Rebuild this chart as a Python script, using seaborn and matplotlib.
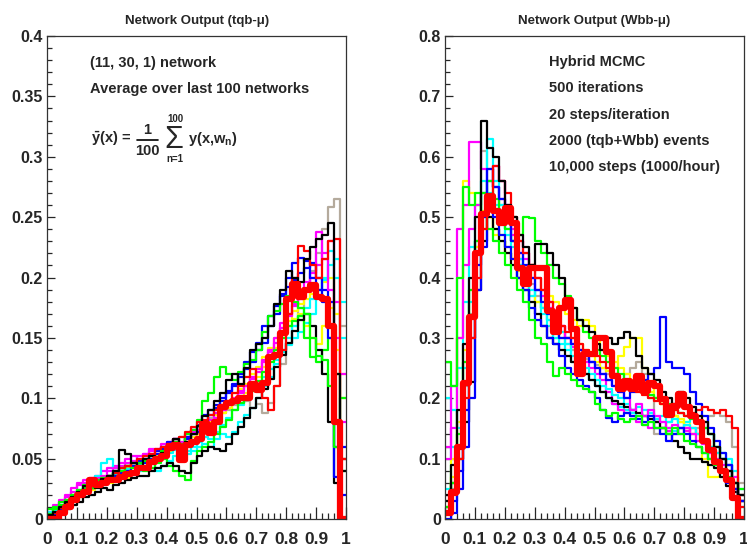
import numpy as np
import pandas as pd
import matplotlib
matplotlib.use("Agg")
import matplotlib.pyplot as plt
from matplotlib.lines import Line2D
from matplotlib.ticker import MultipleLocator, FuncFormatter
import seaborn as sns

# 50 bins on [0, 1]
edges = np.linspace(0, 1, 51)
centers = 0.5 * (edges[:-1] + edges[1:])

# ---- tqb-mu panel: individual networks ----
tqb_black = [0.003, 0.006, 0.010, 0.014, 0.018, 0.022, 0.027, 0.030, 0.026, 0.033,
             0.036, 0.040, 0.057, 0.054, 0.046, 0.044, 0.050, 0.052, 0.049, 0.055,
             0.060, 0.066, 0.058, 0.064, 0.070, 0.077, 0.085, 0.090, 0.098, 0.104,
             0.115, 0.120, 0.112, 0.125, 0.140, 0.145, 0.150, 0.160, 0.178, 0.190,
             0.205, 0.200, 0.196, 0.215, 0.225, 0.232, 0.235, 0.245, 0.120, 0.040]
tqb_green = [0.004, 0.008, 0.012, 0.016, 0.020, 0.024, 0.028, 0.026, 0.030, 0.034,
             0.036, 0.038, 0.040, 0.044, 0.042, 0.046, 0.048, 0.052, 0.050, 0.056,
             0.060, 0.064, 0.062, 0.070, 0.074, 0.082, 0.098, 0.104, 0.118, 0.126,
             0.120, 0.115, 0.122, 0.128, 0.132, 0.140, 0.155, 0.168, 0.172, 0.178,
             0.185, 0.180, 0.175, 0.170, 0.150, 0.135, 0.132, 0.110, 0.060, 0.100]
tqb_blue = [0.002, 0.004, 0.006, 0.012, 0.015, 0.019, 0.024, 0.026, 0.028, 0.030,
            0.034, 0.036, 0.038, 0.040, 0.044, 0.048, 0.046, 0.050, 0.054, 0.058,
            0.062, 0.060, 0.058, 0.066, 0.070, 0.072, 0.080, 0.086, 0.092, 0.098,
            0.104, 0.110, 0.118, 0.124, 0.130, 0.140, 0.146, 0.160, 0.170, 0.185,
            0.200, 0.212, 0.216, 0.214, 0.200, 0.190, 0.180, 0.150, 0.035, 0.060]
tqb_blue2 = [0.002, 0.005, 0.008, 0.012, 0.016, 0.020, 0.022, 0.026, 0.030, 0.034,
             0.036, 0.038, 0.042, 0.044, 0.046, 0.048, 0.050, 0.052, 0.056, 0.060,
             0.064, 0.066, 0.060, 0.068, 0.074, 0.078, 0.086, 0.090, 0.094, 0.100,
             0.106, 0.112, 0.120, 0.130, 0.138, 0.146, 0.160, 0.168, 0.176, 0.186,
             0.192, 0.198, 0.204, 0.208, 0.212, 0.200, 0.190, 0.180, 0.060, 0.020]
tqb_magenta = [0.004, 0.010, 0.014, 0.018, 0.022, 0.028, 0.030, 0.033, 0.034, 0.036,
               0.040, 0.042, 0.044, 0.046, 0.048, 0.052, 0.054, 0.056, 0.058, 0.060,
               0.062, 0.058, 0.064, 0.066, 0.072, 0.074, 0.078, 0.082, 0.088, 0.090,
               0.094, 0.096, 0.104, 0.110, 0.116, 0.124, 0.132, 0.140, 0.150, 0.162,
               0.170, 0.176, 0.182, 0.190, 0.200, 0.238, 0.215, 0.190, 0.150, 0.120]
tqb_magenta2 = [0.006, 0.012, 0.016, 0.020, 0.026, 0.030, 0.032, 0.034, 0.036, 0.040,
                0.042, 0.044, 0.046, 0.050, 0.052, 0.050, 0.054, 0.058, 0.056, 0.062,
                0.064, 0.066, 0.062, 0.068, 0.070, 0.074, 0.080, 0.078, 0.084, 0.090,
                0.096, 0.100, 0.106, 0.110, 0.118, 0.122, 0.130, 0.138, 0.146, 0.158,
                0.168, 0.178, 0.186, 0.196, 0.204, 0.210, 0.220, 0.230, 0.180, 0.080]
tqb_cyan = [0.006, 0.008, 0.012, 0.015, 0.018, 0.022, 0.026, 0.030, 0.036, 0.046,
            0.050, 0.042, 0.040, 0.038, 0.044, 0.040, 0.042, 0.046, 0.040, 0.044,
            0.048, 0.052, 0.050, 0.054, 0.056, 0.060, 0.062, 0.060, 0.066, 0.070,
            0.068, 0.072, 0.080, 0.086, 0.092, 0.100, 0.110, 0.118, 0.128, 0.140,
            0.150, 0.160, 0.168, 0.175, 0.182, 0.190, 0.198, 0.210, 0.215, 0.150]
tqb_cyan2 = [0.004, 0.007, 0.011, 0.015, 0.019, 0.023, 0.027, 0.029, 0.031, 0.033,
             0.035, 0.037, 0.039, 0.041, 0.043, 0.045, 0.047, 0.049, 0.051, 0.053,
             0.055, 0.057, 0.052, 0.056, 0.060, 0.064, 0.068, 0.066, 0.072, 0.078,
             0.084, 0.090, 0.094, 0.100, 0.106, 0.112, 0.118, 0.124, 0.132, 0.138,
             0.144, 0.150, 0.155, 0.162, 0.170, 0.185, 0.200, 0.222, 0.200, 0.180]
tqb_yellow = [0.002, 0.004, 0.008, 0.012, 0.016, 0.018, 0.022, 0.024, 0.028, 0.030,
              0.030, 0.034, 0.036, 0.034, 0.040, 0.044, 0.046, 0.048, 0.052, 0.056,
              0.058, 0.060, 0.062, 0.066, 0.068, 0.072, 0.074, 0.078, 0.084, 0.088,
              0.092, 0.096, 0.100, 0.104, 0.110, 0.118, 0.126, 0.134, 0.142, 0.152,
              0.160, 0.166, 0.170, 0.160, 0.150, 0.145, 0.160, 0.175, 0.140, 0.100]
tqb_yellow2 = [0.001, 0.004, 0.008, 0.012, 0.016, 0.020, 0.024, 0.028, 0.030, 0.032,
               0.034, 0.036, 0.038, 0.042, 0.044, 0.046, 0.048, 0.050, 0.052, 0.054,
               0.056, 0.060, 0.064, 0.066, 0.068, 0.070, 0.076, 0.080, 0.086, 0.092,
               0.098, 0.104, 0.108, 0.112, 0.120, 0.126, 0.134, 0.142, 0.150, 0.158,
               0.164, 0.172, 0.178, 0.182, 0.186, 0.190, 0.196, 0.200, 0.170, 0.120]
tqb_gray = [0.003, 0.006, 0.010, 0.014, 0.018, 0.022, 0.026, 0.028, 0.030, 0.034,
            0.036, 0.038, 0.040, 0.042, 0.046, 0.048, 0.050, 0.054, 0.056, 0.060,
            0.062, 0.064, 0.068, 0.070, 0.074, 0.076, 0.080, 0.084, 0.086, 0.088,
            0.090, 0.094, 0.096, 0.098, 0.092, 0.095, 0.088, 0.096, 0.110, 0.128,
            0.145, 0.160, 0.175, 0.190, 0.205, 0.220, 0.240, 0.258, 0.265, 0.160]
tqb_red = [0.002, 0.005, 0.009, 0.013, 0.016, 0.020, 0.023, 0.027, 0.030, 0.033,
           0.036, 0.038, 0.042, 0.044, 0.046, 0.050, 0.052, 0.054, 0.058, 0.060,
           0.062, 0.066, 0.068, 0.072, 0.076, 0.080, 0.082, 0.086, 0.090, 0.094,
           0.098, 0.104, 0.110, 0.118, 0.124, 0.110, 0.100, 0.090, 0.110, 0.140,
           0.170, 0.200, 0.226, 0.222, 0.210, 0.200, 0.215, 0.230, 0.232, 0.050]
tqb_black2 = [0.001, 0.003, 0.006, 0.008, 0.012, 0.014, 0.018, 0.020, 0.022, 0.026,
              0.024, 0.028, 0.030, 0.032, 0.034, 0.036, 0.036, 0.040, 0.042, 0.044,
              0.046, 0.044, 0.040, 0.038, 0.046, 0.052, 0.056, 0.060, 0.058, 0.056,
              0.062, 0.070, 0.076, 0.084, 0.092, 0.100, 0.108, 0.116, 0.126, 0.136,
              0.146, 0.156, 0.165, 0.170, 0.160, 0.140, 0.120, 0.080, 0.030, 0.050]
tqb_green2 = [0.008, 0.010, 0.014, 0.016, 0.020, 0.024, 0.026, 0.030, 0.032, 0.034,
              0.036, 0.040, 0.042, 0.044, 0.046, 0.044, 0.040, 0.042, 0.046, 0.050,
              0.044, 0.040, 0.036, 0.032, 0.048, 0.056, 0.060, 0.064, 0.070, 0.076,
              0.082, 0.090, 0.096, 0.100, 0.106, 0.114, 0.122, 0.130, 0.140, 0.150,
              0.160, 0.164, 0.168, 0.150, 0.134, 0.130, 0.140, 0.150, 0.120, 0.040]
# average over networks (thick red)
tqb_mean = [0.000, 0.000, 0.005, 0.010, 0.016, 0.020, 0.022, 0.032, 0.028, 0.030,
            0.032, 0.032, 0.035, 0.037, 0.038, 0.042, 0.042, 0.047, 0.050, 0.052,
            0.059, 0.061, 0.049, 0.061, 0.064, 0.066, 0.079, 0.071, 0.080, 0.093,
            0.096, 0.098, 0.100, 0.100, 0.112, 0.107, 0.113, 0.134, 0.136, 0.154,
            0.182, 0.195, 0.184, 0.190, 0.194, 0.184, 0.182, 0.160, 0.080, 0.000]

# ---- Wbb-mu panel ----
wbb_black = [0.040, 0.090, 0.180, 0.290, 0.400, 0.500, 0.660, 0.615, 0.600, 0.560,
             0.520, 0.500, 0.470, 0.450, 0.420, 0.455, 0.455, 0.440, 0.420, 0.400,
             0.360, 0.350, 0.330, 0.320, 0.310, 0.290, 0.280, 0.300, 0.290, 0.300,
             0.310, 0.300, 0.270, 0.250, 0.240, 0.230, 0.210, 0.200, 0.190, 0.210,
             0.200, 0.185, 0.170, 0.160, 0.140, 0.120, 0.100, 0.080, 0.060, 0.040]
wbb_black2 = [0.030, 0.060, 0.100, 0.160, 0.227, 0.380, 0.460, 0.500, 0.480, 0.460,
              0.440, 0.420, 0.400, 0.380, 0.360, 0.340, 0.320, 0.300, 0.290, 0.280,
              0.270, 0.260, 0.250, 0.240, 0.230, 0.220, 0.210, 0.200, 0.195, 0.190,
              0.185, 0.180, 0.175, 0.170, 0.165, 0.160, 0.150, 0.140, 0.130, 0.120,
              0.110, 0.100, 0.100, 0.095, 0.090, 0.085, 0.070, 0.055, 0.045, 0.030]
wbb_magenta = [0.100, 0.220, 0.480, 0.520, 0.625, 0.625, 0.580, 0.560, 0.550, 0.530,
               0.500, 0.470, 0.440, 0.430, 0.400, 0.380, 0.370, 0.350, 0.330, 0.320,
               0.300, 0.290, 0.280, 0.270, 0.260, 0.250, 0.240, 0.230, 0.220, 0.210,
               0.200, 0.180, 0.190, 0.170, 0.180, 0.170, 0.160, 0.150, 0.155, 0.140,
               0.150, 0.140, 0.130, 0.125, 0.110, 0.100, 0.090, 0.080, 0.060, 0.040]
wbb_magenta2 = [0.120, 0.150, 0.300, 0.420, 0.480, 0.520, 0.540, 0.560, 0.585, 0.560,
                0.520, 0.480, 0.460, 0.440, 0.420, 0.400, 0.380, 0.360, 0.340, 0.320,
                0.300, 0.285, 0.270, 0.260, 0.250, 0.240, 0.230, 0.210, 0.190, 0.180,
                0.175, 0.170, 0.160, 0.155, 0.150, 0.160, 0.150, 0.145, 0.140, 0.150,
                0.145, 0.150, 0.140, 0.130, 0.120, 0.110, 0.100, 0.090, 0.070, 0.040]
wbb_cyan = [0.200, 0.180, 0.150, 0.250, 0.360, 0.460, 0.540, 0.630, 0.560, 0.520,
            0.480, 0.460, 0.430, 0.400, 0.370, 0.380, 0.350, 0.330, 0.300, 0.310,
            0.290, 0.270, 0.260, 0.250, 0.240, 0.230, 0.220, 0.215, 0.205, 0.200,
            0.190, 0.180, 0.185, 0.170, 0.175, 0.165, 0.170, 0.160, 0.165, 0.150,
            0.155, 0.150, 0.140, 0.130, 0.120, 0.110, 0.100, 0.090, 0.060, 0.020]
wbb_cyan2 = [0.050, 0.120, 0.250, 0.360, 0.450, 0.520, 0.560, 0.540, 0.520, 0.500,
             0.470, 0.450, 0.420, 0.400, 0.380, 0.360, 0.340, 0.320, 0.300, 0.290,
             0.280, 0.260, 0.250, 0.240, 0.230, 0.220, 0.210, 0.200, 0.190, 0.185,
             0.180, 0.175, 0.170, 0.180, 0.175, 0.165, 0.160, 0.150, 0.145, 0.150,
             0.160, 0.170, 0.160, 0.150, 0.140, 0.120, 0.110, 0.100, 0.080, 0.050]
wbb_blue = [0.010, 0.030, 0.080, 0.180, 0.300, 0.420, 0.500, 0.580, 0.550, 0.530,
            0.500, 0.460, 0.440, 0.420, 0.400, 0.380, 0.360, 0.340, 0.320, 0.300,
            0.300, 0.290, 0.280, 0.270, 0.260, 0.250, 0.240, 0.230, 0.220, 0.210,
            0.200, 0.210, 0.220, 0.230, 0.240, 0.250, 0.335, 0.260, 0.250, 0.250,
            0.240, 0.210, 0.190, 0.170, 0.150, 0.130, 0.110, 0.090, 0.050, 0.030]
wbb_blue2 = [0.000, 0.010, 0.050, 0.120, 0.200, 0.380, 0.450, 0.520, 0.500, 0.470,
             0.450, 0.430, 0.400, 0.380, 0.350, 0.330, 0.320, 0.300, 0.290, 0.270,
             0.250, 0.240, 0.230, 0.220, 0.210, 0.200, 0.180, 0.168, 0.160, 0.170,
             0.175, 0.170, 0.165, 0.160, 0.170, 0.150, 0.140, 0.130, 0.140, 0.150,
             0.140, 0.130, 0.120, 0.110, 0.100, 0.090, 0.080, 0.060, 0.050, 0.030]
wbb_green = [0.260, 0.220, 0.400, 0.550, 0.520, 0.540, 0.500, 0.480, 0.460, 0.440,
             0.420, 0.400, 0.380, 0.360, 0.330, 0.300, 0.290, 0.260, 0.237, 0.250,
             0.240, 0.230, 0.220, 0.215, 0.210, 0.190, 0.180, 0.170, 0.175, 0.165,
             0.160, 0.165, 0.170, 0.155, 0.160, 0.150, 0.150, 0.140, 0.150, 0.140,
             0.130, 0.125, 0.120, 0.110, 0.100, 0.090, 0.080, 0.070, 0.060, 0.050]
wbb_green2 = [0.020, 0.060, 0.140, 0.260, 0.380, 0.460, 0.540, 0.560, 0.530, 0.500,
              0.480, 0.460, 0.470, 0.500, 0.498, 0.460, 0.440, 0.420, 0.400, 0.390,
              0.370, 0.350, 0.330, 0.310, 0.300, 0.280, 0.270, 0.260, 0.250, 0.240,
              0.230, 0.220, 0.215, 0.210, 0.205, 0.200, 0.195, 0.190, 0.180, 0.175,
              0.170, 0.165, 0.160, 0.150, 0.140, 0.120, 0.100, 0.080, 0.060, 0.040]
wbb_yellow = [0.030, 0.100, 0.300, 0.560, 0.540, 0.520, 0.510, 0.500, 0.480, 0.470,
              0.450, 0.430, 0.410, 0.390, 0.370, 0.360, 0.350, 0.340, 0.320, 0.310,
              0.300, 0.300, 0.290, 0.280, 0.270, 0.260, 0.250, 0.245, 0.250, 0.270,
              0.285, 0.300, 0.300, 0.250, 0.220, 0.200, 0.190, 0.180, 0.170, 0.160,
              0.150, 0.140, 0.120, 0.100, 0.070, 0.070, 0.080, 0.090, 0.070, 0.040]
wbb_yellow2 = [0.020, 0.070, 0.160, 0.280, 0.380, 0.450, 0.480, 0.500, 0.470, 0.460,
               0.440, 0.430, 0.420, 0.410, 0.420, 0.400, 0.380, 0.370, 0.360, 0.350,
               0.340, 0.330, 0.320, 0.330, 0.320, 0.300, 0.280, 0.270, 0.260, 0.250,
               0.240, 0.230, 0.220, 0.215, 0.210, 0.200, 0.190, 0.180, 0.170, 0.165,
               0.160, 0.150, 0.140, 0.130, 0.120, 0.100, 0.080, 0.070, 0.050, 0.030]
wbb_gray = [0.020, 0.050, 0.120, 0.220, 0.340, 0.450, 0.610, 0.580, 0.550, 0.520,
            0.490, 0.460, 0.430, 0.410, 0.390, 0.370, 0.350, 0.330, 0.310, 0.300,
            0.290, 0.280, 0.270, 0.265, 0.260, 0.255, 0.250, 0.240, 0.235, 0.230,
            0.240, 0.250, 0.260, 0.240, 0.200, 0.140, 0.150, 0.160, 0.170, 0.160,
            0.150, 0.140, 0.150, 0.160, 0.170, 0.175, 0.170, 0.160, 0.120, 0.060]
wbb_red = [0.010, 0.040, 0.100, 0.200, 0.300, 0.400, 0.480, 0.520, 0.585, 0.560,
           0.540, 0.500, 0.460, 0.440, 0.420, 0.400, 0.380, 0.360, 0.340, 0.320,
           0.310, 0.300, 0.290, 0.280, 0.275, 0.270, 0.260, 0.250, 0.240, 0.230,
           0.220, 0.215, 0.210, 0.205, 0.200, 0.195, 0.190, 0.185, 0.180, 0.175,
           0.170, 0.175, 0.180, 0.185, 0.180, 0.175, 0.180, 0.170, 0.150, 0.020]
wbb_mean = [0.010, 0.045, 0.120, 0.225, 0.335, 0.440, 0.505, 0.535, 0.510, 0.490,
            0.515, 0.490, 0.415, 0.390, 0.415, 0.415, 0.415, 0.345, 0.310, 0.350,
            0.362, 0.315, 0.240, 0.273, 0.273, 0.300, 0.300, 0.277, 0.237, 0.215,
            0.228, 0.215, 0.237, 0.212, 0.226, 0.220, 0.198, 0.172, 0.187, 0.207,
            0.185, 0.170, 0.160, 0.130, 0.115, 0.095, 0.080, 0.065, 0.035, 0.000]

GRAY, YEL, CYA, MAG = "#b4aa9c", "#ffff00", "#00ffff", "#ff00ff"
GRN, BLU, RED, BLK = "#00ff00", "#0000ff", "#ff0000", "#000000"
tqb_nets = [(tqb_gray, GRAY), (tqb_yellow2, YEL), (tqb_cyan2, CYA), (tqb_yellow, YEL),
            (tqb_magenta2, MAG), (tqb_cyan, CYA), (tqb_blue2, BLU), (tqb_magenta, MAG),
            (tqb_green2, GRN), (tqb_black2, BLK), (tqb_blue, BLU), (tqb_green, GRN),
            (tqb_red, RED), (tqb_black, BLK)]
wbb_nets = [(wbb_gray, GRAY), (wbb_yellow2, YEL), (wbb_cyan2, CYA), (wbb_yellow, YEL),
            (wbb_magenta2, MAG), (wbb_cyan, CYA), (wbb_black2, BLK), (wbb_magenta, MAG),
            (wbb_green2, GRN), (wbb_blue2, BLU), (wbb_green, GRN), (wbb_blue, BLU),
            (wbb_red, RED), (wbb_black, BLK)]

sns.set_style("ticks")
plt.rcParams["font.family"] = ["Liberation Sans", "DejaVu Sans"]
plt.rcParams["font.weight"] = "bold"
plt.rcParams["mathtext.fontset"] = "custom"
plt.rcParams["mathtext.rm"] = "Liberation Sans:bold"
plt.rcParams["mathtext.it"] = "Liberation Sans:bold"
plt.rcParams["mathtext.bf"] = "Liberation Sans:bold"

W, H = 747, 550
fig = plt.figure(figsize=(W / 100, H / 100), dpi=100)
ax1 = fig.add_axes([47 / W, 1 - 519 / H, 299 / W, 483 / H])
ax2 = fig.add_axes([445 / W, 1 - 519 / H, 299 / W, 483 / H])


def draw_hist(ax, values, color, lw):
    df = pd.DataFrame({"x": centers, "w": values})
    sns.histplot(data=df, x="x", weights="w", bins=50, binrange=(0, 1),
                 element="step", fill=False, color=color, linewidth=lw, ax=ax)


def fmt(v, pos):
    return "%g" % round(v, 3)


for ax, nets, mean, ymax, ymaj, ymin in [(ax1, tqb_nets, tqb_mean, 0.4, 0.05, 0.01),
                                         (ax2, wbb_nets, wbb_mean, 0.8, 0.1, 0.02)]:
    for vals, col in nets:
        draw_hist(ax, vals, col, 1.6)
    draw_hist(ax, mean, RED, 4.5)
    ax.set_xlim(0, 1)
    ax.set_ylim(0, ymax)
    ax.set_xlabel("")
    ax.set_ylabel("")
    ax.xaxis.set_major_locator(MultipleLocator(0.1))
    ax.xaxis.set_minor_locator(MultipleLocator(0.02))
    ax.yaxis.set_major_locator(MultipleLocator(ymaj))
    ax.yaxis.set_minor_locator(MultipleLocator(ymin))
    ax.xaxis.set_major_formatter(FuncFormatter(fmt))
    ax.yaxis.set_major_formatter(FuncFormatter(fmt))
    ax.tick_params(axis="x", which="major", direction="in", length=9, width=0.9,
                   labelsize=12.5, pad=9, top=False)
    ax.tick_params(axis="x", which="minor", direction="in", length=4.5, width=0.9, top=False)
    ax.tick_params(axis="y", which="major", direction="in", length=6, width=0.9,
                   labelsize=11.5, pad=3, right=False)
    ax.tick_params(axis="y", which="minor", direction="in", length=3.5, width=0.9, right=False)
    for lab in ax.get_xticklabels() + ax.get_yticklabels():
        lab.set_fontweight("bold")
    for sp in ax.spines.values():
        sp.set_visible(True)
        sp.set_linewidth(0.9)
        sp.set_color("#333333")


def ftext(x, y, s, **kw):
    kw.setdefault("fontweight", "bold")
    kw.setdefault("va", "center")
    kw.setdefault("ha", "left")
    return fig.text(x / W, 1 - y / H, s, **kw)


ftext(197, 21, "Network Output (tqb-\u03bc)", ha="center", fontsize=9.5)
ftext(594, 21, "Network Output (Wbb-\u03bc)", ha="center", fontsize=9.5)

ftext(90, 63, "(11, 30, 1) network", fontsize=10.5)
ftext(90, 89, "Average over last 100 networks", fontsize=10.5)

# formula: y-bar(x) = 1/100 sum_{n=1}^{100} y(x, w_n)
ftext(91, 139, r"$\bar{y}$(x) =", fontsize=10.5)
ftext(147, 130, "1", ha="center", fontsize=10.5)
ftext(147, 151, "100", ha="center", fontsize=10.5)
fig.add_artist(Line2D([137 / W, 158 / W], [1 - 140.5 / H, 1 - 140.5 / H],
                      color="black", linewidth=1.2))
ftext(174, 140, "\u03a3", ha="center", fontsize=22, fontweight="normal")
ftext(175, 119, "100", ha="center", fontsize=7)
ftext(175, 159, "n=1", ha="center", fontsize=7)
ftext(188, 139, r"y(x,w$_{n}$)", fontsize=10.5)

right_lines = ["Hybrid MCMC", "500 iterations", "20 steps/iteration",
               "2000 (tqb+Wbb) events", "10,000 steps (1000/hour)"]
for i, t in enumerate(right_lines):
    ftext(549, 62 + i * 26.3, t, fontsize=10.5)

fig.savefig("out.png", dpi=100, facecolor="white")
